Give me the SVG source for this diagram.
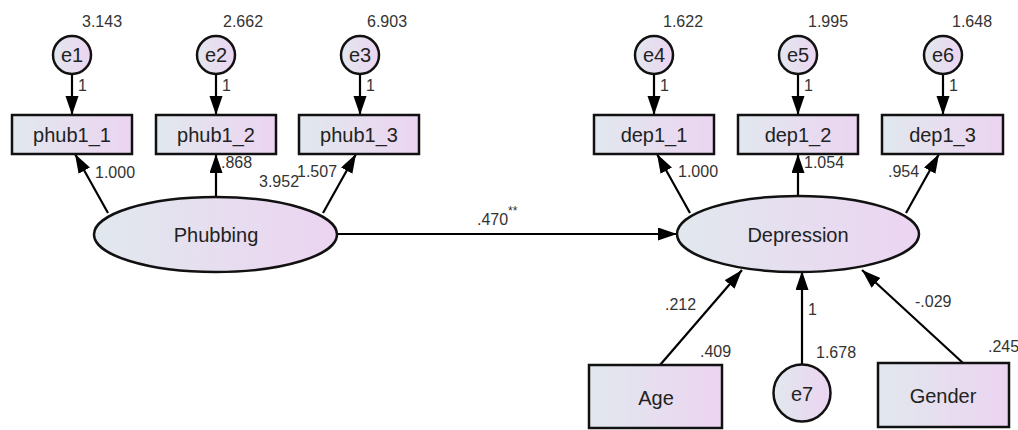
<svg xmlns="http://www.w3.org/2000/svg" width="1018" height="430" viewBox="0 0 1018 430">
<defs>
<linearGradient id="g" x1="0" y1="0" x2="1" y2="0">
<stop offset="0" stop-color="#e1e8ee"/>
<stop offset="1" stop-color="#ecd4f1"/>
</linearGradient>
<marker id="ah" markerUnits="userSpaceOnUse" markerWidth="20" markerHeight="14" refX="19" refY="6.5" orient="auto">
<path d="M0,0 L19,6.5 L0,13 z" fill="#000"/>
</marker>
<style>
.n{fill:url(#g);stroke:#111;stroke-width:2.5}
.t{font-family:"Liberation Sans",Arial,sans-serif;font-size:20px;fill:#222;text-anchor:middle}
.l{font-family:"Liberation Sans",Arial,sans-serif;font-size:16px;fill:#333}
.c line{stroke:#000;stroke-width:2.2;marker-end:url(#ah)}
</style>
</defs>
<rect width="1018" height="430" fill="#fff"/>
<g class="c" id="connectors">
<line x1="72" y1="75" x2="72" y2="115"/>
<line x1="216" y1="75" x2="216" y2="115"/>
<line x1="360" y1="75" x2="360" y2="115"/>
<line x1="654" y1="75" x2="654" y2="115"/>
<line x1="798" y1="75" x2="798" y2="115"/>
<line x1="943" y1="75" x2="943" y2="115"/>
<line x1="108" y1="213" x2="75" y2="154"/>
<line x1="216" y1="197" x2="216" y2="154"/>
<line x1="323" y1="213" x2="356" y2="154"/>
<line x1="690" y1="213" x2="657" y2="154"/>
<line x1="798" y1="196" x2="798" y2="154"/>
<line x1="906" y1="213" x2="939" y2="154"/>
<line x1="337" y1="234" x2="677" y2="234"/>
<line x1="660" y1="365" x2="742" y2="270"/>
<line x1="802" y1="364" x2="802" y2="271"/>
<line x1="963" y1="363" x2="862" y2="270"/>
</g>
<g id="e1"><circle class="n" cx="72" cy="55" r="19"/><text class="t" x="72" y="62">e1</text></g>
<g id="e2"><circle class="n" cx="216" cy="55" r="19"/><text class="t" x="216" y="62">e2</text></g>
<g id="e3"><circle class="n" cx="360" cy="55" r="19"/><text class="t" x="360" y="62">e3</text></g>
<g id="e4"><circle class="n" cx="654" cy="55" r="19"/><text class="t" x="654" y="62">e4</text></g>
<g id="e5"><circle class="n" cx="798" cy="55" r="19"/><text class="t" x="798" y="62">e5</text></g>
<g id="e6"><circle class="n" cx="943" cy="55" r="19"/><text class="t" x="943" y="62">e6</text></g>
<g id="phub1_1"><rect class="n" x="12" y="115" width="120" height="39"/><text class="t" x="72" y="142">phub1_1</text></g>
<g id="phub1_2"><rect class="n" x="156" y="115" width="120" height="39"/><text class="t" x="216" y="142">phub1_2</text></g>
<g id="phub1_3"><rect class="n" x="299" y="115" width="120" height="39"/><text class="t" x="359" y="142">phub1_3</text></g>
<g id="dep1_1"><rect class="n" x="594" y="115" width="120" height="39"/><text class="t" x="654" y="142">dep1_1</text></g>
<g id="dep1_2"><rect class="n" x="738" y="115" width="120" height="39"/><text class="t" x="798" y="142">dep1_2</text></g>
<g id="dep1_3"><rect class="n" x="882" y="115" width="121" height="39"/><text class="t" x="942.5" y="142">dep1_3</text></g>
<g id="Phubbing"><ellipse class="n" cx="215.5" cy="234.5" rx="121.5" ry="37.5"/><text class="t" x="216" y="242">Phubbing</text></g>
<g id="Depression"><ellipse class="n" cx="798" cy="234" rx="121" ry="38"/><text class="t" x="798" y="242">Depression</text></g>
<g id="Age"><rect class="n" x="589" y="365" width="133" height="63"/><text class="t" x="656" y="405">Age</text></g>
<g id="e7"><circle class="n" cx="802" cy="393" r="28.5"/><text class="t" x="802" y="401">e7</text></g>
<g id="Gender"><rect class="n" x="878" y="363" width="131" height="64"/><text class="t" x="943" y="403">Gender</text></g>
<g id="labels">
<text class="l" x="82" y="27">3.143</text>
<text class="l" x="223" y="27">2.662</text>
<text class="l" x="367" y="27">6.903</text>
<text class="l" x="663" y="27">1.622</text>
<text class="l" x="808" y="27">1.995</text>
<text class="l" x="952" y="27">1.648</text>
<text class="l" x="78" y="91">1</text>
<text class="l" x="222" y="91">1</text>
<text class="l" x="366" y="91">1</text>
<text class="l" x="660" y="91">1</text>
<text class="l" x="804" y="91">1</text>
<text class="l" x="949" y="91">1</text>
<text class="l" x="95" y="178">1.000</text>
<text class="l" x="221" y="168">.868</text>
<text class="l" x="259" y="187">3.952</text>
<text class="l" x="297" y="177">1.507</text>
<text class="l" x="678" y="177">1.000</text>
<text class="l" x="804" y="168">1.054</text>
<text class="l" x="888" y="177">.954</text>
<text class="l" x="477" y="225">.470</text>
<text class="l" x="508" y="215" style="font-size:12px">**</text>
<text class="l" x="665" y="310">.212</text>
<text class="l" x="808" y="315">1</text>
<text class="l" x="915" y="307">-.029</text>
<text class="l" x="700" y="357">.409</text>
<text class="l" x="816" y="358">1.678</text>
<text class="l" x="988" y="352">.245</text>
</g>
</svg>
